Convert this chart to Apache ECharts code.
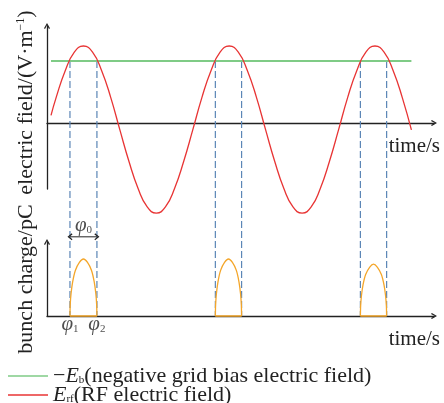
<!DOCTYPE html>
<html>
<head>
<meta charset="utf-8">
<script src="https://cdn.jsdelivr.net/npm/echarts@6/dist/echarts.min.js"></script>
<style>
  html, body { margin: 0; padding: 0; background: #fff; }
  #chart { width: 444px; height: 403px; }
</style>
</head>
<body>
<div id="chart"></div>
<script>
// Time is measured in quarter periods of the RF wave.
const rfTime = [0.11,
  0.25, 0.5, 0.75, 1, 1.25, 1.5, 1.75, 2, 2.25, 2.5, 2.75, 3, 3.25, 3.5, 3.75, 4,
  4.25, 4.5, 4.75, 5, 5.25, 5.5, 5.75, 6, 6.25, 6.5, 6.75, 7, 7.25, 7.5, 7.75, 8,
  8.25, 8.5, 8.75, 9, 9.25, 9.5, 9.75, 10];
const rfField = [0.10,
  0.33, 0.68, 0.92, 1.00, 0.92, 0.68, 0.33, -0.09, -0.50, -0.85, -1.09, -1.17, -1.09, -0.85, -0.50, -0.09,
  0.33, 0.68, 0.92, 1.00, 0.92, 0.68, 0.33, -0.09, -0.50, -0.85, -1.09, -1.17, -1.09, -0.85, -0.50, -0.09,
  0.33, 0.68, 0.92, 1.00, 0.92, 0.68, 0.33, -0.09];

// Negative grid bias level and its extent in time
const biasLevel = 0.805;
const biasSpan = [0.11, 10.0];

// Phase window of each bunch (phi1 .. phi2) and bunch peak charge
const phiStart = [0.63, 4.62, 8.60];
const phiEnd = [1.37, 5.34, 9.32];
const bunchPeak = [0.77, 0.77, 0.70];

// Outline of one bunch: fraction of its window vs fraction of its peak
const bunchShapeX = [0, 0.01, 0.04, 0.10, 0.20, 0.35, 0.50, 0.65, 0.80, 0.90, 0.96, 0.99, 1];
const bunchShapeY = [0, 0.20, 0.39, 0.60, 0.80, 0.94, 1.00, 0.94, 0.80, 0.60, 0.39, 0.20, 0];

// Drawing constants
const X_MAX = 10.62;
const DASH_BOTTOM = -2.51;   // field-axis value that lands on the charge axis baseline
const PHI0_LEVEL = 1.07;     // charge-axis value of the phi0 double arrow

const FONT = 'Liberation Serif';
const INK = '#222';
const RED = '#e83434';
const GREEN = '#7fcb86';
const BLUE = '#5b86b6';
const ORANGE = '#f4a62a';
const CHEVRON = 'path://M5,0 L10,8.6 L8.3,10 L5,3.8 L1.7,10 L0,8.6 Z';

const rfData = rfTime.map((t, i) => [t, rfField[i]]);

const dashData = [];
phiStart.concat(phiEnd).forEach(p => {
  dashData.push([p, biasLevel], [p, DASH_BOTTOM], [p, '-']);
});

const bunchData = [];
const baseData = [];
phiStart.forEach((a, k) => {
  const w = phiEnd[k] - a;
  bunchShapeX.forEach((f, j) => bunchData.push([a + f * w, bunchShapeY[j] * bunchPeak[k]]));
  bunchData.push([phiEnd[k], '-']);
  baseData.push([a, 0], [phiEnd[k], 0], [phiEnd[k], '-']);
});

function richSet(size, lh) {
  return {
    t: { fontFamily: FONT, fontSize: size, color: INK, lineHeight: lh },
    i: { fontFamily: FONT, fontSize: size, fontStyle: 'italic', color: INK, lineHeight: lh },
    s: { fontFamily: FONT, fontSize: 11, color: INK, lineHeight: 11, verticalAlign: 'bottom' },
    p: { fontFamily: FONT, fontSize: 12, color: INK, lineHeight: 12, verticalAlign: 'top' }
  };
}
const richAxis = richSet(22, 22);
const richLegend = richSet(22, 19);
const richPhi = richSet(21, 21);

const axisLineStyle = { color: INK, width: 1.3 };

function baseAxis(gridIndex) {
  return {
    gridIndex,
    axisLine: { show: true, onZero: true, symbol: ['none', CHEVRON], symbolSize: [7, 6], lineStyle: axisLineStyle },
    axisTick: { show: false },
    axisLabel: { show: false },
    splitLine: { show: false }
  };
}

const timeName = {
  name: 'time/s', nameLocation: 'end', nameGap: 6,
  nameTextStyle: { fontFamily: FONT, fontSize: 21, color: INK, align: 'right', verticalAlign: 'top', lineHeight: 22, padding: [12, 0, 0, 0] }
};

const chart = echarts.init(document.getElementById('chart'), null, { renderer: 'canvas' });

chart.setOption({
  animation: false,
  backgroundColor: '#fff',
  grid: [
    { left: 47, top: 26, width: 387, height: 163 },
    { left: 47, top: 242, width: 387, height: 74 }
  ],
  xAxis: [
    Object.assign(baseAxis(0), { type: 'value', min: 0, max: X_MAX }, timeName),
    Object.assign(baseAxis(1), { type: 'value', min: 0, max: X_MAX }, timeName)
  ],
  yAxis: [
    Object.assign(baseAxis(0), {
      type: 'value', min: -0.857, max: 1.26,
      name: '{t|electric field/(V·m}{p|−1}{t|)}',
      nameLocation: 'middle', nameRotate: 90, nameGap: 10,
      nameTextStyle: { rich: richAxis, padding: [0, 0, 0, 10] }
    }),
    Object.assign(baseAxis(1), {
      type: 'value', min: 0, max: 1,
      name: 'bunch charge/pC',
      nameLocation: 'middle', nameRotate: 90, nameGap: 10,
      nameTextStyle: { fontFamily: FONT, fontSize: 22, color: INK, lineHeight: 22 }
    })
  ],
  legend: {
    orient: 'vertical', left: 8, top: 365, height: 60, padding: 0,
    itemWidth: 40, itemHeight: 1.6, itemGap: -3,
    icon: 'rect',
    data: ['bias', 'rf'],
    formatter: n => n === 'bias'
      ? '{t|−}{i|E}{s|b}{t|(negative grid bias electric field)}'
      : '{i|E}{s|rf}{t|(RF electric field)}',
    textStyle: { rich: richLegend }
  },
  series: [
    {
      name: 'dash', type: 'line', xAxisIndex: 0, yAxisIndex: 0,
      data: dashData, symbol: 'none', clip: false, silent: true,
      lineStyle: { color: BLUE, width: 1.2, type: [7, 3] }, z: 1
    },
    {
      name: 'bias', type: 'line', xAxisIndex: 0, yAxisIndex: 0,
      data: [[biasSpan[0], biasLevel], [biasSpan[1], biasLevel]],
      symbol: 'none', color: GREEN, lineStyle: { color: GREEN, width: 2 }, z: 2
    },
    {
      name: 'rf', type: 'line', xAxisIndex: 0, yAxisIndex: 0,
      data: rfData, smooth: true, symbol: 'none', clip: false,
      color: RED, lineStyle: { color: RED, width: 1.3 }, z: 3
    },
    {
      name: 'bunch', type: 'line', xAxisIndex: 1, yAxisIndex: 1,
      data: bunchData, smooth: 0.25, symbol: 'none', clip: false,
      lineStyle: { color: ORANGE, width: 1.3 }, z: 3
    },
    {
      name: 'bunchBase', type: 'line', xAxisIndex: 1, yAxisIndex: 1,
      data: baseData, symbol: 'none', clip: false,
      lineStyle: { color: ORANGE, width: 1.6 }, z: 4
    },
    {
      name: 'phi0Arrow', type: 'line', xAxisIndex: 1, yAxisIndex: 1,
      data: [
        { value: [phiStart[0], PHI0_LEVEL], symbolRotate: 90 },
        { value: [phiEnd[0], PHI0_LEVEL], symbolRotate: -90 }
      ],
      symbol: CHEVRON, symbolSize: [7, 5], showSymbol: true, clip: false,
      itemStyle: { color: INK }, lineStyle: { color: INK, width: 1 }, z: 5
    },
    {
      name: 'phiLabels', type: 'scatter', xAxisIndex: 1, yAxisIndex: 1,
      symbolSize: 0, clip: false, silent: true,
      data: [
        { value: [phiStart[0], 0], label: { position: 'bottom', distance: -2, formatter: '{i|φ}{s|1}' } },
        { value: [phiEnd[0], 0], label: { position: 'bottom', distance: -2, formatter: '{i|φ}{s|2}' } },
        { value: [(phiStart[0] + phiEnd[0]) / 2, PHI0_LEVEL], label: { position: 'top', distance: 1, formatter: '{i|φ}{s|0}' } }
      ],
      label: { show: true, rich: richPhi }
    }
  ]
});
</script>
</body>
</html>
